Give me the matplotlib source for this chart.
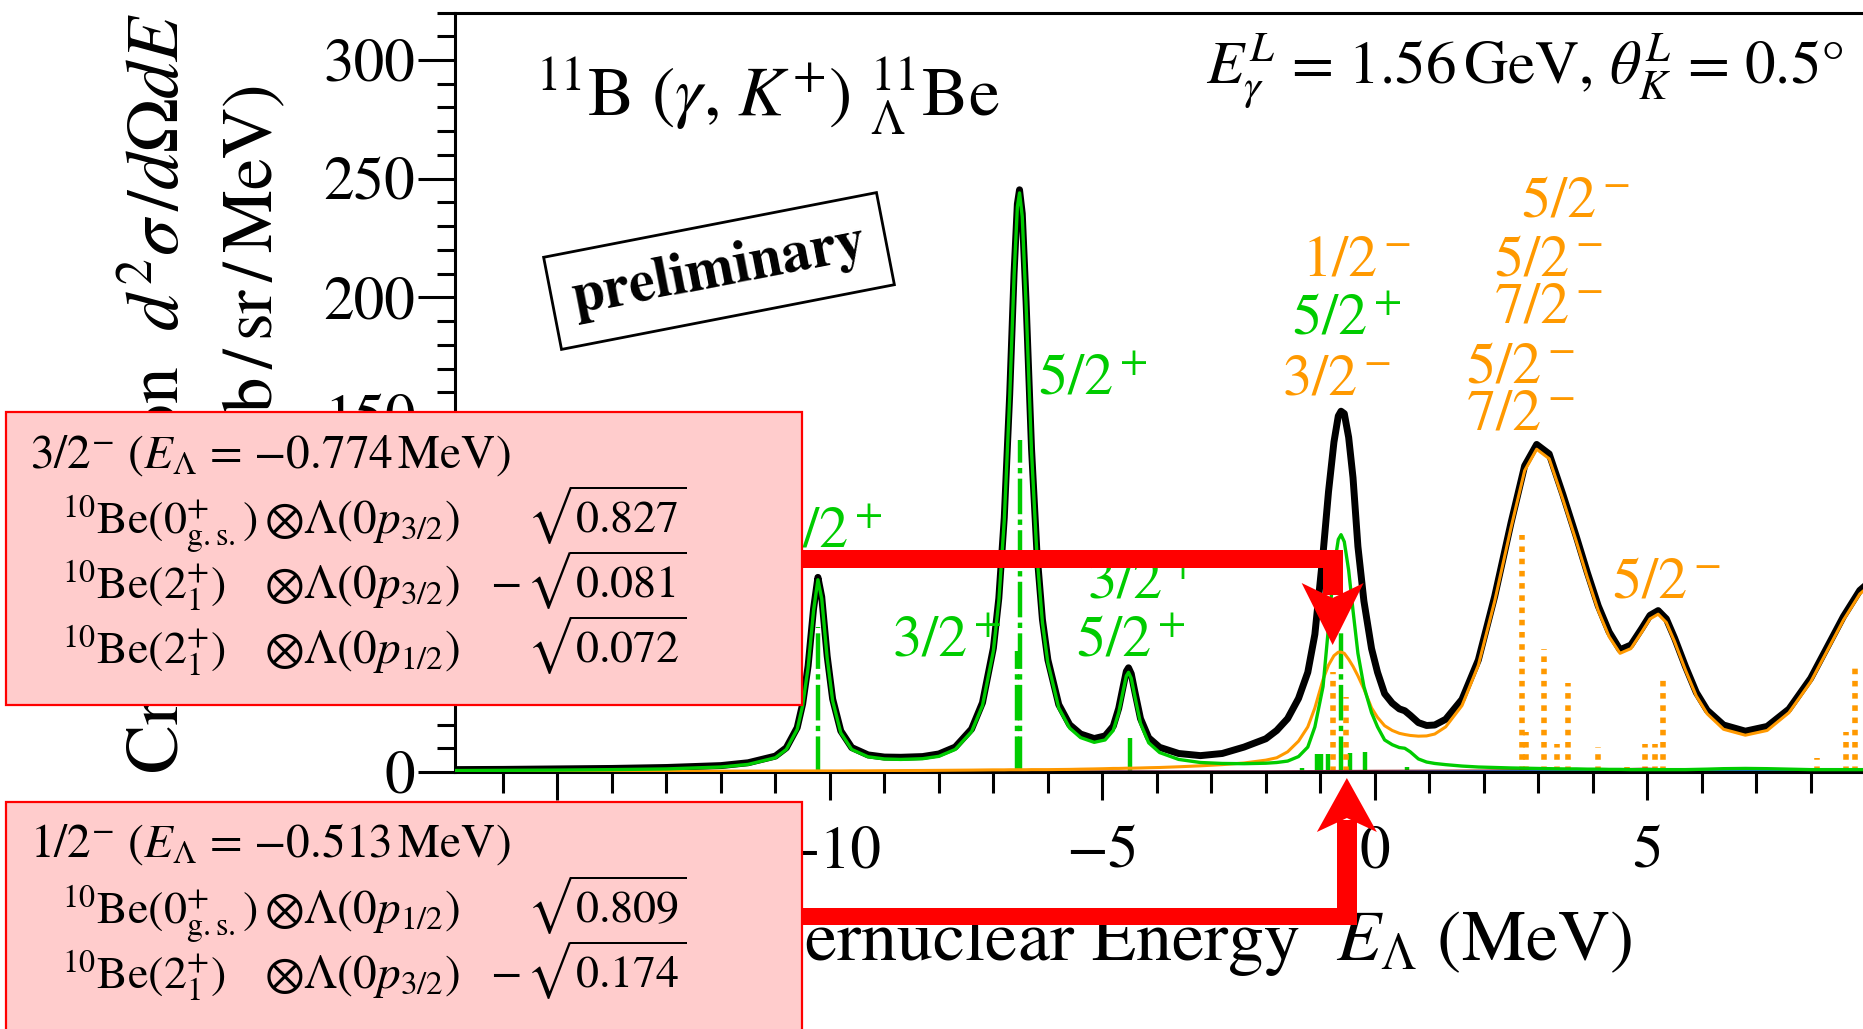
import matplotlib
matplotlib.use("Agg")
import matplotlib.pyplot as plt
from matplotlib.patches import Rectangle, Polygon
from matplotlib.ticker import MultipleLocator

plt.rcParams['font.family'] = 'STIXGeneral'
plt.rcParams['mathtext.fontset'] = 'stix'

GREEN = '#00CC00'
ORANGE = '#FF9900'
PINK = '#FFCCCC'
RED = '#FF0000'

# spectrum (E_Lambda in MeV)
energy = [-17, -16, -15, -14, -13, -12, -11.5, -11, -10.8, -10.6, -10.5, -10.4, -10.3, -10.22,
          -10.15, -10.05, -9.95, -9.8, -9.6, -9.3, -9.0, -8.7, -8.3, -8.0, -7.7, -7.4, -7.2, -7.0,
          -6.9, -6.8, -6.7, -6.62, -6.56, -6.52, -6.47, -6.4, -6.3, -6.2, -6.1, -6.0, -5.8, -5.6,
          -5.4, -5.15, -4.95, -4.8, -4.7, -4.62, -4.56, -4.52, -4.47, -4.4, -4.3, -4.15, -3.95,
          -3.6, -3.2, -2.8, -2.4, -2.0, -1.8, -1.6, -1.4, -1.23, -1.1, -0.95, -0.85, -0.75, -0.67,
          -0.62, -0.56, -0.48, -0.4, -0.31, -0.2, -0.06, 0.05, 0.18, 0.32, 0.45, 0.55, 0.65, 0.8,
          0.95, 1.1, 1.3, 1.6, 1.9, 2.2, 2.5, 2.75, 2.97, 3.2, 3.45, 3.7, 3.9, 4.1, 4.3, 4.5, 4.7,
          4.9, 5.05, 5.2, 5.35, 5.5, 5.7, 5.9, 6.1, 6.4, 6.8, 7.2, 7.6, 8.0, 8.3, 8.6, 8.9, 9.2]

total = [1.0, 1.1, 1.3, 1.5, 1.9, 2.7, 3.9, 6.7, 10.2, 18.7, 28.7, 44.7, 68.8, 82,
         73.8, 48.8, 30.8, 17.3, 10.3, 7.2, 6.3, 6.2, 6.5, 7.6, 10.5, 18.1, 29.2, 52.2,
         73.2, 107.2, 159.3, 210.3, 239.3, 245.3, 235.3, 198.3, 136.3, 92.3, 64.3, 47.3, 28.4, 19.9,
         16, 14.1, 15.2, 19.3, 26.8, 35.8, 42.4, 43.9, 41.4, 33.4, 22.5, 14.4, 10.4,
         7.8, 6.9, 7.8, 10.5, 14, 17.5, 22.5, 31, 42, 58, 92, 118, 139, 150,
         152, 151, 141, 124, 95, 72, 52, 42, 33, 29, 26.6, 25.8, 23.9, 20.8,
         19.6, 19.8, 22.2, 30.6, 47.2, 74, 105, 129, 138, 134, 117, 99, 84, 70, 59, 51.5, 53.5,
         60.5, 66, 68, 64.5, 56.5, 44.5, 33.5, 26, 19.8, 17.2, 19.2, 26.5, 39.5, 52.5, 65.5, 76.5, 82.5]

positive_parity = [0.6, 0.7, 0.8, 1.0, 1.3, 2.1, 3.2, 6.0, 9.5, 18, 28, 44, 68, 81,
                   73, 48, 30, 16.5, 9.5, 6.4, 5.5, 5.3, 5.6, 6.6, 9.5, 17, 28, 51,
                   72, 106, 158, 209, 238, 244, 234, 197, 135, 91, 63, 46, 27, 18.5,
                   14.5, 12.5, 13.5, 17.5, 25, 34, 40.5, 42, 39.5, 31.5, 20.5, 12.3, 8.2,
                   5.3, 4.0, 3.6, 3.5, 3.7, 4.0, 4.6, 6.5, 10.5, 19, 36, 61, 86, 98,
                   100, 97, 85, 68, 50, 36, 25, 19, 13.5, 11.5, 10.3, 10, 8.5, 5.5,
                   4.2, 3.6, 3.1, 2.5, 2.1, 1.9, 1.7, 1.6, 1.5, 1.4, 1.3, 1.3, 1.2, 1.2, 1.1, 1.1, 1.0,
                   1.0, 1.0, 1.0, 1.0, 1.0, 1.0, 1.1, 1.2, 1.4, 1.5, 1.4, 1.2, 1.0, 1.0, 1.0, 1.0, 1.0]

negative_parity = [0.1, 0.15, 0.2, 0.25, 0.3, 0.35, 0.4, 0.4, 0.45, 0.45, 0.45, 0.45, 0.45, 0.45,
                   0.45, 0.45, 0.45, 0.45, 0.5, 0.5, 0.55, 0.6, 0.65, 0.7, 0.75, 0.8, 0.85, 0.9,
                   0.9, 0.9, 0.95, 0.95, 0.95, 0.95, 0.95, 0.95, 1.0, 1.0, 1.0, 1.0, 1.05, 1.1,
                   1.2, 1.3, 1.4, 1.5, 1.5, 1.55, 1.6, 1.6, 1.6, 1.65, 1.7, 1.8, 1.9,
                   2.2, 2.6, 3.1, 3.8, 5.0, 6.0, 8.5, 13, 19, 27, 39, 45, 49, 50.5,
                   50.5, 50, 47.5, 44.5, 40.5, 35, 27, 23, 19.5, 17.5, 16.3, 15.8, 15.4, 15.1,
                   15.2, 16.0, 19, 28, 45, 72, 103, 127, 136, 132, 115, 97, 82, 68, 57, 50, 52,
                   59, 64.5, 66.5, 63, 55, 43, 32, 24.5, 18, 15.5, 17.5, 25, 38, 51, 64, 75, 81]

# small components lying on the axis
minor_e = [-17, -2, 0, 2, 4.5, 5.0, 5.5, 7, 9.2]
minor_red = [0.1, 0.3, 0.5, 0.6, 1.2, 1.4, 1.0, 0.6, 0.8]
minor_blue_e = [-17, 0, 2, 4, 6, 8, 9.2]
minor_blue = [0.05, 0.1, 0.3, 0.4, 0.5, 0.7, 0.8]

# individual states
green_stick_e = [-10.21, -6.52, -6.57, -4.5, -0.62, -1.34, -1.07, -0.98, -0.86, -0.46, -0.18, 0.59]
green_stick_h = [61, 140, 51, 14.3, 60, 1.5, 7.6, 7.6, 7.6, 8, 8.5, 2]
orange_stick_e = [-0.77, -0.53, 2.71, 2.78, 3.11, 3.35, 3.55, 4.10, 4.62, 4.95, 5.15, 5.29,
                  8.11, 8.64, 8.81]
orange_stick_h = [42, 31.6, 100, 17, 52, 12, 37.5, 10.5, 2, 12, 12, 41, 6, 17, 46]

# spin-parity labels
spin_text = ['3/2$^+$', '5/2$^+$', '3/2$^+$', '3/2$^+$', '5/2$^+$', '1/2$^-$', '5/2$^+$',
             '3/2$^-$', '5/2$^-$', '5/2$^-$', '7/2$^-$', '5/2$^-$', '7/2$^-$', '5/2$^-$']
spin_x = [-11.04, -6.19, -8.86, -5.29, -5.49, -1.34, -1.52, -1.70, 2.69, 2.18, 2.18, 1.68, 1.68, 4.36]
spin_y = [94.8, 158.9, 48.5, 73.3, 48.5, 209.4, 184.2, 158.9, 233.9, 209.4, 189.2, 164.3, 144.1, 73.7]
spin_col = [GREEN, GREEN, GREEN, GREEN, GREEN, ORANGE, GREEN, ORANGE, ORANGE, ORANGE, ORANGE,
            ORANGE, ORANGE, ORANGE]

# wave function boxes
state_energy = [-0.774, -0.513]
box_head = [r'3/2$^{-}$ ($E_\Lambda$ = $-$0.774$\,$MeV)', r'1/2$^{-}$ ($E_\Lambda$ = $-$0.513$\,$MeV)']
box_core = [[r'$^{10}$Be(0$^{+}_{\mathrm{g.s.}}$)', r'$^{10}$Be(2$^{+}_{1}$)', r'$^{10}$Be(2$^{+}_{1}$)'],
            [r'$^{10}$Be(0$^{+}_{\mathrm{g.s.}}$)', r'$^{10}$Be(2$^{+}_{1}$)']]
box_lam = [[r'$\otimes\Lambda(0p_{3/2})$', r'$\otimes\Lambda(0p_{3/2})$', r'$\otimes\Lambda(0p_{1/2})$'],
           [r'$\otimes\Lambda(0p_{1/2})$', r'$\otimes\Lambda(0p_{3/2})$']]
box_amp = [[r'$\sqrt{0.827}$', r'$-\,\sqrt{0.081}$', r'$\sqrt{0.072}$'],
           [r'$\sqrt{0.809}$', r'$-\,\sqrt{0.174}$']]

W, H = 1863, 1029
fig = plt.figure(figsize=(W / 100, H / 100), dpi=100)
ax = fig.add_axes([455 / W, (H - 772) / H, (1917 - 455) / W, 759.5 / H])
ax.set_xlim(-16.88, 9.95)
ax.set_ylim(0, 320)

ax.vlines(green_stick_e, 0, green_stick_h, colors=GREEN, linewidth=3.2,
          linestyles=[(0, (8, 1.2, 1.2, 1.2))], zorder=1)
ax.vlines(orange_stick_e, 0, orange_stick_h, colors=ORANGE, linewidth=4.0,
          linestyles=[(0, (1, 1.2))], zorder=1)
ax.plot(minor_e, minor_red, color='#8B0000', lw=1.5, zorder=2)
ax.plot(minor_blue_e, minor_blue, color='#1E6FD9', lw=1.5, zorder=2)
ax.plot(energy, total, color='black', lw=5, zorder=3, solid_joinstyle='round')
ax.plot(energy, negative_parity, color=ORANGE, lw=2.2, zorder=4, solid_joinstyle='round')
ax.plot(energy, positive_parity, color=GREEN, lw=2.4, zorder=5, solid_joinstyle='round')

for t, x, y, c in zip(spin_text, spin_x, spin_y, spin_col):
    ax.text(x, y, t, color=c, fontsize=42, ha='left', va='baseline', zorder=6)

ax.xaxis.set_major_locator(MultipleLocator(5))
ax.xaxis.set_minor_locator(MultipleLocator(1))
ax.yaxis.set_major_locator(MultipleLocator(50))
ax.yaxis.set_minor_locator(MultipleLocator(10))
ax.tick_params(axis='x', which='major', direction='out', length=20, width=2.2, pad=19, labelsize=44)
ax.tick_params(axis='x', which='minor', direction='out', length=15, width=2.2)
ax.tick_params(axis='y', which='major', direction='out', length=27, width=2.2, pad=1.5, labelsize=44)
ax.tick_params(axis='y', which='minor', direction='out', length=13, width=2.2)
for s in ax.spines.values():
    s.set_linewidth(2.2)

# overlay in pixel coordinates for the annotations
ov = fig.add_axes([0, 0, 1, 1], zorder=10)
ov.set_xlim(0, W)
ov.set_ylim(H, 0)
ov.axis('off')
ov.patch.set_alpha(0)

ov.text(196, 13, r'Cross Section  $d^2\sigma\,/d\Omega dE$', rotation=90, fontsize=53,
        ha='right', va='top')
ov.text(288, 85, r'(nb$\,$/$\,$sr$\,$/$\,$MeV)', rotation=90, fontsize=51, ha='right', va='top')
ov.text(1632, 960, r'Hypernuclear Energy  $E_\Lambda$ (MeV)', fontsize=52, ha='right', va='baseline')
ov.text(535, 115, r'$^{11}$B ($\gamma$, $K^{+}$) ${}^{11}_{\Lambda}$Be', fontsize=50, va='baseline')
ov.text(1206, 84, r'$E_\gamma^L$ = 1.56$\,$GeV, $\theta_K^L$ = 0.5°', fontsize=44, va='baseline')
ov.text(719, 271, 'preliminary', fontsize=42, fontweight='bold', rotation=11,
        rotation_mode='anchor', ha='center', va='center',
        bbox=dict(boxstyle='square,pad=0.35', fc='white', ec='black', lw=2))


def to_pix(e):
    dx, dy = ax.transData.transform((e, 0))
    return dx


# pink boxes
box_top = [412, 802]
box_h = [293, 260]
head_base = [468, 857]
row_base = [[533, 598, 663], [923, 988]]
for i in range(2):
    ov.add_patch(Rectangle((6, box_top[i]), 796, box_h[i], fc=PINK, ec=RED, lw=1.6, zorder=20))
    ov.text(30, head_base[i], box_head[i], fontsize=34, va='baseline', zorder=21)
    for j, yb in enumerate(row_base[i]):
        ov.text(62, yb, box_core[i][j], fontsize=33, va='baseline', zorder=21)
        ov.text(264, yb, box_lam[i][j], fontsize=34, va='baseline', zorder=21)
        ov.text(686, yb, box_amp[i][j], fontsize=33, va='baseline', ha='right', zorder=21)

# red arrows pointing to the states
x1 = to_pix(state_energy[0])
ov.add_patch(Rectangle((802, 550), x1 + 10 - 802, 18, fc=RED, ec='none', zorder=19))
ov.add_patch(Rectangle((x1 - 10, 550), 20, 45, fc=RED, ec='none', zorder=19))
ov.add_patch(Polygon([(x1 - 31, 583), (x1, 598), (x1 + 31, 583), (x1, 645)],
                     closed=True, fc=RED, ec='none', zorder=19))

x2 = to_pix(state_energy[1])
ov.add_patch(Rectangle((802, 908), x2 + 10 - 802, 17, fc=RED, ec='none', zorder=19))
ov.add_patch(Rectangle((x2 - 10, 820), 20, 105, fc=RED, ec='none', zorder=19))
ov.add_patch(Polygon([(x2 - 30, 832), (x2, 818), (x2 + 30, 832), (x2, 778)],
                     closed=True, fc=RED, ec='none', zorder=19))

fig.savefig('out.png', dpi=100)
